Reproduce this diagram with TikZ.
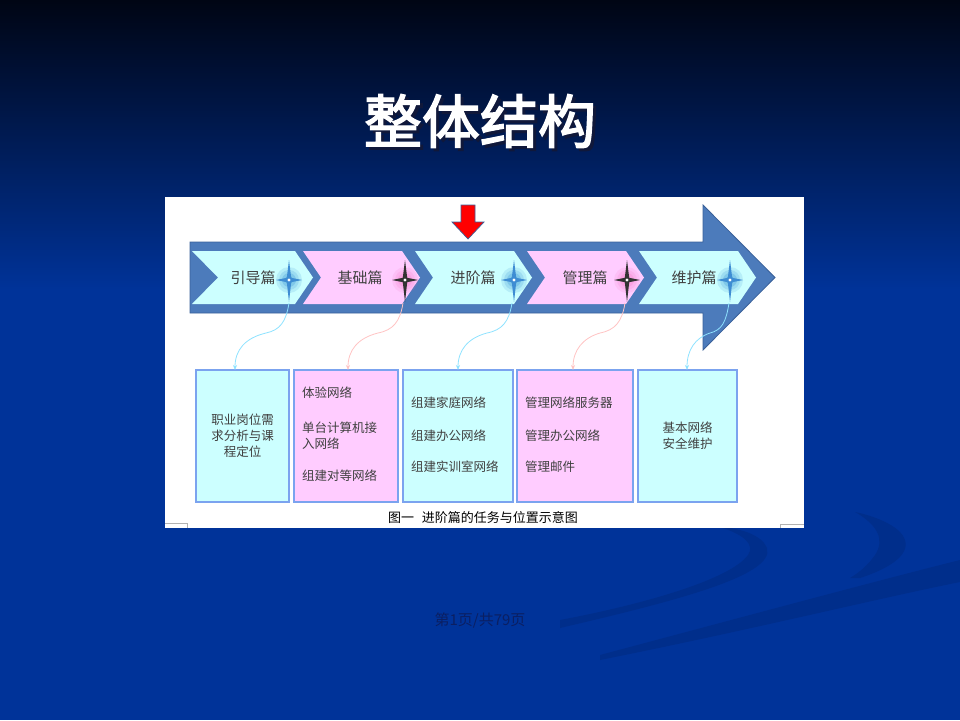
\documentclass[tikz,border=0pt]{standalone}
\usepackage{fontspec}
\setmainfont{Noto Sans CJK SC}[AutoFakeBold=2.5]
\usetikzlibrary{arrows.meta}
\definecolor{bgblue}{HTML}{003399}
\definecolor{bgtop}{HTML}{000514}
\definecolor{bgmid}{HTML}{001a5c}
\definecolor{bodyblue}{HTML}{4C7BBB}
\definecolor{bodyedge}{HTML}{3A6199}
\definecolor{cyfill}{HTML}{CCFFFF}
\definecolor{pkfill}{HTML}{FFCCFF}
\definecolor{boxedge}{HTML}{7BA3EF}
\definecolor{txtgray}{HTML}{404040}
\definecolor{cyline}{HTML}{8FE3FF}
\definecolor{pkline}{HTML}{FFC4C4}
\definecolor{footcol}{HTML}{0B1F62}
\definecolor{shadowcol}{HTML}{10183A}
\newcommand\chevshape[3]{% left, right, colour
  \fill[#3] (#1,251) -- (#2,251) -- ({#2+18},277.5) -- (#2,304) -- (#1,304) -- ({#1+18},277.5) -- cycle;}
\newcommand\sparkle[4]{% x, y, glow colour, star colour
  \foreach \r/\o in {13/0.12,10/0.15,7/0.2,4/0.3}{\fill[#3,opacity=\o] (#1,#2) circle (\r);}
  \fill[#4] (#1,{#2-20}) -- ({#1+2.2},{#2-2.2}) -- ({#1+13},#2) -- ({#1+2.2},{#2+2.2}) -- (#1,{#2+22}) -- ({#1-2.2},{#2+2.2}) -- ({#1-13},#2) -- ({#1-2.2},{#2-2.2}) -- cycle;
  \fill[white] (#1,#2) circle (1.6);}
\newcommand\shadowed[1]{\makebox[0pt][l]{\hspace{3pt}\raisebox{-3pt}[0pt][0pt]{\color{shadowcol}#1}}\color{white}#1}
\begin{document}
\begin{tikzpicture}[x=1pt,y=-1pt,
  boxbase/.style={draw=boxedge, line width=1.8pt, inner sep=0pt},
  boxtxt/.style={text=txtgray, font=\fontsize{12.5}{16}\selectfont, inner sep=0pt},
  chevtxt/.style={text=txtgray, font=\fontsize{15}{18}\selectfont, inner sep=0pt},
  cyconn/.style={cyline, line width=0.8pt, -{Stealth[length=5pt,width=4pt]}},
  pkconn/.style={pkline, line width=0.8pt, -{Stealth[length=5pt,width=4pt]}},
  swoosh/.style={fill=black!60!bgblue, opacity=0.15}]
\useasboundingbox (0,0) rectangle (960,720);
% background
\fill[bgblue] (0,0) rectangle (960,720);
\shade[top color=bgtop, middle color=bgmid, bottom color=bgblue] (0,0) rectangle (960,290);
% swooshes
\fill[swoosh] (560,628) .. controls (680,600) and (775,575) .. (767,548) .. controls (762,535) and (740,528) .. (720,527) .. controls (745,535) and (755,545) .. (748,555) .. controls (730,580) and (640,605) .. (560,620) -- cycle;
\fill[swoosh] (860,578) .. controls (900,565) and (915,548) .. (900,532) .. controls (890,522) and (870,515) .. (855,512) .. controls (878,525) and (885,540) .. (875,555) .. controls (868,565) and (860,572) .. (850,578) -- cycle;
\fill[swoosh] (600,655) .. controls (750,615) and (880,580) .. (960,560) -- (960,582) .. controls (880,598) and (750,630) .. (600,660) -- cycle;
% title
\node[font=\fontsize{58}{62}\selectfont\bfseries, inner sep=0pt] (title) at (480,121) {\shadowed{整体结构}};
% panel
\fill[white] (165,197) rectangle (804,528);
\draw[gray!60, line width=0.5pt] (165,523) -- (187,523) -- (187,528);
\draw[gray!60, line width=0.5pt] (804,524) -- (780,524) -- (780,528);
% big arrow
\filldraw[fill=bodyblue, draw=bodyedge, line width=0.8pt] (190,242) -- (703,242) -- (703,205) -- (775,277.5) -- (703,350) -- (703,313) -- (190,313) -- cycle;
% chevrons
\fill[cyfill] (192,251) -- (295,251) -- (313,277.5) -- (295,304) -- (192,304) -- (218,277.5) -- cycle;
\chevshape{303}{402}{pkfill}
\chevshape{415}{514}{cyfill}
\chevshape{527}{626}{pkfill}
\chevshape{639}{738}{cyfill}
% red marker arrow
\filldraw[fill=red, draw=bodyedge, line width=0.7pt] (461,205) -- (475,205) -- (475,222) -- (484,222) -- (468,239) -- (452,222) -- (461,222) -- cycle;
% labels
\node[chevtxt] (l1) at (253,277.5) {引导篇};
\node[chevtxt] (l2) at (360,277.5) {基础篇};
\node[chevtxt] (l3) at (473,277.5) {进阶篇};
\node[chevtxt] (l4) at (585,277.5) {管理篇};
\node[chevtxt] (l5) at (694,277.5) {维护篇};
% sparkles
\sparkle{289}{280}{cyan!60!blue}{cyan!60!blue!80}
\sparkle{405}{280}{magenta!60}{black!80}
\sparkle{514}{280}{cyan!60!blue}{cyan!60!blue!80}
\sparkle{627}{280}{magenta!60}{black!80}
\sparkle{730}{280}{cyan!60!blue}{cyan!60!blue!80}
\coordinate (s1) at (289,303);
\coordinate (s2) at (403,303);
\coordinate (s3) at (512,303);
\coordinate (s4) at (625,303);
\coordinate (s5) at (729,303);
% boxes
\node[boxbase, fill=cyfill, minimum width=93pt, minimum height=132pt] (b1) at (242.5,436) {};
\node[boxbase, fill=pkfill, minimum width=104pt, minimum height=132pt] (b2) at (346,436) {};
\node[boxbase, fill=cyfill, minimum width=110pt, minimum height=132pt] (b3) at (458,436) {};
\node[boxbase, fill=pkfill, minimum width=116pt, minimum height=132pt] (b4) at (575,436) {};
\node[boxbase, fill=cyfill, minimum width=99pt, minimum height=132pt] (b5) at (687.5,436) {};
% connectors
\coordinate (m1) at (266,333);
\coordinate (m2) at (378,333);
\coordinate (m3) at (487,333);
\coordinate (m4) at (600,333);
\coordinate (m5) at (710,333);
\draw[cyconn] (s1) .. controls (286,322) and (280,330) .. (m1) .. controls (245,338) and (235,350) .. (235,370);
\draw[pkconn] (s2) .. controls (400,322) and (393,330) .. (m2) .. controls (358,338) and (348,350) .. (348,370);
\draw[cyconn] (s3) .. controls (509,322) and (502,330) .. (m3) .. controls (468,338) and (458,350) .. (458,370);
\draw[pkconn] (s4) .. controls (622,322) and (615,330) .. (m4) .. controls (583,338) and (573,350) .. (573,370);
\draw[cyconn] (s5) .. controls (726,322) and (722,330) .. (m5) .. controls (695,338) and (687,350) .. (687,370);
% box texts
\node[boxtxt, align=center] (t1) at (242.5,436) {职业岗位需\\求分析与课\\程定位};
\node[boxtxt, anchor=west] (t2a) at (302,393) {体验网络};
\node[boxtxt, anchor=west, align=left] (t2b) at (302,435.5) {单台计算机接\\入网络};
\node[boxtxt, anchor=west] (t2c) at (302,476) {组建对等网络};
\node[boxtxt, anchor=west] (t3a) at (411,403) {组建家庭网络};
\node[boxtxt, anchor=west] (t3b) at (411,436) {组建办公网络};
\node[boxtxt, anchor=west] (t3c) at (411,467) {组建实训室网络};
\node[boxtxt, anchor=west] (t4a) at (525,403) {管理网络服务器};
\node[boxtxt, anchor=west] (t4b) at (525,436) {管理办公网络};
\node[boxtxt, anchor=west] (t4c) at (525,467) {管理邮件};
\node[boxtxt, align=center] (t5) at (687.5,435.5) {基本网络\\安全维护};
% caption
\node[text=black, font=\fontsize{13}{15}\selectfont, inner sep=0pt] (caption) at (483,518) {图一\hspace{0.6em}进阶篇的任务与位置示意图};
% footer
\node[text=footcol, font=\fontsize{15}{17}\selectfont, inner sep=0pt] (footer) at (480,620) {第1页/共79页};
\end{tikzpicture}
\end{document}
